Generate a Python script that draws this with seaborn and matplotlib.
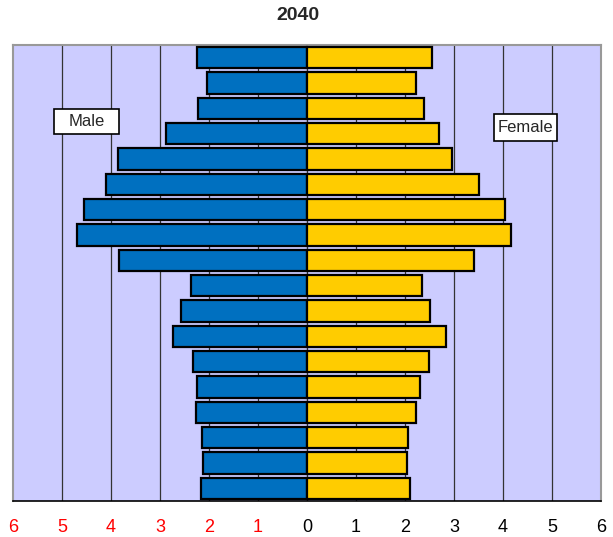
import matplotlib
matplotlib.use("Agg")
import matplotlib.pyplot as plt
from matplotlib.patches import Rectangle
import seaborn as sns
import pandas as pd

# Age groups from oldest (top) to youngest (bottom)
age_groups = ["85+", "80-84", "75-79", "70-74", "65-69", "60-64", "55-59", "50-54",
              "45-49", "40-44", "35-39", "30-34", "25-29", "20-24", "15-19", "10-14",
              "5-9", "0-4"]
male = [2.24, 2.05, 2.23, 2.88, 3.85, 4.11, 4.56, 4.69, 3.83,
        2.36, 2.58, 2.73, 2.33, 2.24, 2.27, 2.14, 2.12, 2.16]
female = [2.56, 2.22, 2.39, 2.69, 2.96, 3.50, 4.05, 4.17, 3.41,
          2.34, 2.50, 2.83, 2.48, 2.31, 2.22, 2.07, 2.05, 2.10]
tick_values = [-6, -5, -4, -3, -2, -1, 0, 1, 2, 3, 4, 5, 6]
tick_labels = ["6", "5", "4", "3", "2", "1", "0", "1", "2", "3", "4", "5", "6"]

df = pd.DataFrame({"age": age_groups, "male": [-v for v in male], "female": female})

sns.set_style("white")
plt.rcParams["font.family"] = ["Liberation Sans", "DejaVu Sans"]

W, H = 613, 537
fig = plt.figure(figsize=(W / 100, H / 100), dpi=100)
ax = fig.add_axes([13 / W, 36 / H, 588 / W, 456 / H])
ax.set_facecolor("#CCCCFF")

sns.barplot(data=df, x="male", y="age", order=age_groups, orient="h",
            color="#0070C0", saturation=1, edgecolor="black", linewidth=1.6,
            width=0.84, ax=ax, zorder=3)
sns.barplot(data=df, x="female", y="age", order=age_groups, orient="h",
            color="#FFCC00", saturation=1, edgecolor="black", linewidth=1.6,
            width=0.84, ax=ax, zorder=3)

ax.set_xlim(-6, 6)
ax.set_ylim(len(age_groups) - 0.5, -0.5)
ax.set_xticks(tick_values)
ax.set_xticklabels(tick_labels, fontsize=13)
for lbl, v in zip(ax.get_xticklabels(), tick_values):
    lbl.set_color("red" if v < 0 else "black")
ax.tick_params(axis="x", direction="out", length=5, width=1, color="black", pad=8)
ax.set_yticks([])
ax.set_xlabel("")
ax.set_ylabel("")

for v in tick_values[1:-1]:
    ax.axvline(v, color="#333333", linewidth=0.9, zorder=1)

for side in ["top", "left", "right"]:
    ax.spines[side].set_color("#999999")
    ax.spines[side].set_linewidth(1.5)
ax.spines["bottom"].set_color("black")
ax.spines["bottom"].set_linewidth(1.2)


def label_box(x0, y0, x1, y1, text):
    """Boxed legend label given in pixel coordinates from the top-left."""
    fig.add_artist(Rectangle((x0 / W, 1 - y1 / H), (x1 - x0) / W, (y1 - y0) / H,
                             transform=fig.transFigure, facecolor="white",
                             edgecolor="black", linewidth=1.2, zorder=5))
    fig.text((x0 + x1) / 2 / W, 1 - (y0 + y1) / 2 / H, text, fontsize=12,
             ha="center", va="center", zorder=6)


label_box(54, 109, 119, 134, "Male")
label_box(494, 114, 557, 141, "Female")

fig.text(298 / W, 1 - 16 / H, "2040", fontsize=14, fontweight="bold",
         ha="center", va="center")

fig.savefig("out.png", dpi=100)
